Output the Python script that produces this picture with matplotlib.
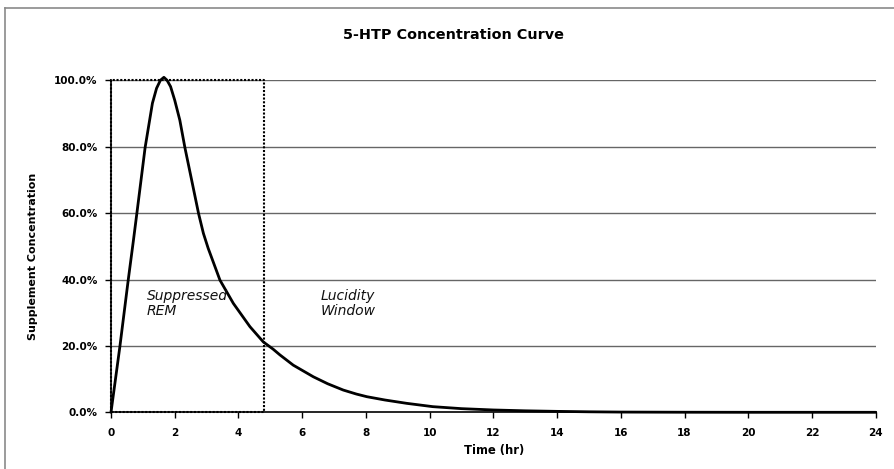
import matplotlib
matplotlib.use("Agg")
import matplotlib.pyplot as plt
from matplotlib.lines import Line2D
from matplotlib.ticker import FuncFormatter

# ---- data ----
time_hr = [0, 0.28, 0.54, 0.70, 0.81, 1.07, 1.30, 1.43, 1.55, 1.66, 1.76, 1.87,
           2.0, 2.16, 2.32, 2.53, 2.75, 2.90, 3.05, 3.42, 3.84, 4.36, 4.78, 5.09,
           5.30, 5.72, 6.35, 6.8, 7.29, 7.7, 8.03, 8.6, 9.28, 10.1, 11.0, 12.0,
           13.0, 14.0, 15.0, 16.0, 18.0, 20.0, 22.0, 24.0]
concentration = [0, 0.199, 0.398, 0.515, 0.598, 0.797, 0.931, 0.976, 1.0, 1.009,
                 1.0, 0.981, 0.94, 0.88, 0.797, 0.70, 0.598, 0.539, 0.494, 0.398,
                 0.328, 0.258, 0.212, 0.19, 0.173, 0.142, 0.107, 0.086, 0.067,
                 0.055, 0.047, 0.037, 0.027, 0.017, 0.011, 0.007, 0.0045, 0.0028,
                 0.0015, 0.0007, 0.0002, 0, 0, 0]
x_ticks = list(range(0, 25, 2))
y_ticks = [0.0, 0.2, 0.4, 0.6, 0.8, 1.0]
window_end = 4.8
window_top = 1.0
title = "5-HTP Concentration Curve"
xlabel = "Time (hr)"
ylabel = "Supplement Concentration"
label_rem = "Suppressed\nREM"
label_lucid = "Lucidity\nWindow"

plt.rcParams['font.family'] = ['DejaVu Sans']

W, H = 895, 469
fig = plt.figure(figsize=(W / 100, H / 100), dpi=100)
x0, x1 = 111.0, 875.7
y0, y1 = 412.3, 80.3
ax = fig.add_axes([x0 / W, 1 - y0 / H, (x1 - x0) / W, (y0 - y1) / H])

ax.set_xlim(0, 24)
ax.set_ylim(0, 1.0)

for yv in y_ticks[1:]:
    ax.axhline(yv, color='#666666', lw=1.0, zorder=1)

ax.plot(time_hr, concentration, color='black', lw=2.0, zorder=3, clip_on=False,
        solid_joinstyle='round', solid_capstyle='round')

ax.plot([0, 0, window_end, window_end, 0], [0, window_top, window_top, 0, 0],
        color='black', lw=1.5, ls=(0, (1, 0.8)), zorder=4, clip_on=False)

ax.text(1.12, 0.293, label_rem, style='italic', fontsize=10, va='baseline',
        ha='left', linespacing=1.08, color='#111111')
ax.text(6.59, 0.293, label_lucid, style='italic', fontsize=10, va='baseline',
        ha='left', linespacing=1.08, color='#111111')

ax.set_xticks(x_ticks)
ax.set_yticks(y_ticks)
ax.yaxis.set_major_formatter(FuncFormatter(lambda v, p: f"{v*100:.1f}%"))
ax.tick_params(axis='both', direction='out', length=4, width=1, labelsize=7.5,
               colors='black')
ax.tick_params(axis='x', pad=7)
ax.tick_params(axis='y', pad=5.8)
for lbl in ax.get_xticklabels() + ax.get_yticklabels():
    lbl.set_fontweight('bold')

for s in ['top', 'right']:
    ax.spines[s].set_visible(False)
ax.spines['left'].set_linewidth(1.2)
ax.spines['bottom'].set_linewidth(1.2)

fig.text(454 / W, 1 - 39.3 / H, title, fontsize=10.4, fontweight='bold',
         ha='center', va='baseline')
fig.text(493.7 / W, 1 - 454.3 / H, xlabel, fontsize=8.4, fontweight='bold',
         ha='center', va='baseline')
fig.text(33 / W, 1 - 256 / H, ylabel, fontsize=8, fontweight='bold',
         rotation=90, ha='center', va='center')

# outer frame (left and top edges visible)
fig.add_artist(Line2D([5 / W, 5 / W], [0, 1 - 8 / H], color='#8a8a8a', lw=1.2,
                      transform=fig.transFigure))
fig.add_artist(Line2D([5 / W, 1], [1 - 8 / H, 1 - 8 / H], color='#8a8a8a', lw=1.2,
                      transform=fig.transFigure))

fig.savefig("out.png", dpi=100)
